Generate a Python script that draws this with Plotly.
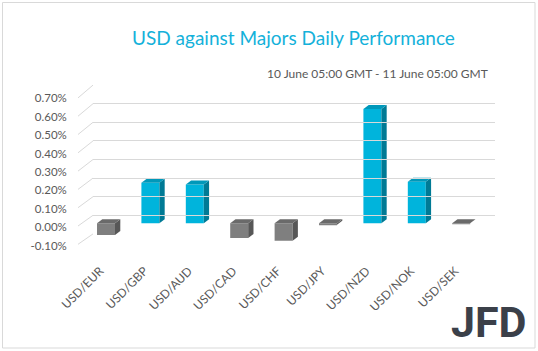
import plotly.graph_objects as go

W, H = 538, 351

categories = ["USD/EUR", "USD/GBP", "USD/AUD", "USD/CAD", "USD/CHF",
              "USD/JPY", "USD/NZD", "USD/NOK", "USD/SEK"]
values = [-0.063, 0.22, 0.21, -0.08, -0.094, -0.008, 0.62, 0.225, -0.004]
tick_vals = [-0.1, 0.0, 0.1, 0.2, 0.3, 0.4, 0.5, 0.6, 0.7]
tick_text = [f"{t:.2f}%" for t in tick_vals]

title_text = "USD against Majors Daily Performance"
subtitle_text = "10 June 05:00 GMT - 11 June 05:00 GMT"

POS_FRONT, POS_SIDE, POS_TOP = "#00B4DC", "#007A95", "#0098BA"
NEG_FRONT, NEG_SIDE, NEG_TOP = "#7F7F7F", "#575757", "#6A6A6A"

def px_x(p):
    return p / W

def px_y(p):
    return 1 - p / H

# bar plane axis (front faces)
x_dom = [px_x(83.8), px_x(483.4)]
y_dom = [px_y(241.75), px_y(94.15)]
# back wall
x2_dom = [px_x(93), px_x(495)]
y2_dom = [px_y(234), px_y(85)]

bar_w = 0.405
dx = 5.3 / 44.4
dy = 4.0 / 184.5

fig = go.Figure()

# invisible trace so the back-wall axes are drawn
fig.add_trace(go.Scatter(x=[0, 1], y=[tick_vals[0], tick_vals[-1]], mode="markers",
                         marker=dict(opacity=0), xaxis="x2", yaxis="y2",
                         showlegend=False, hoverinfo="skip"))

idx = list(range(len(categories)))
fig.add_trace(go.Bar(
    x=idx, y=values, width=bar_w,
    marker=dict(color=[POS_FRONT if v >= 0 else NEG_FRONT for v in values],
                line=dict(width=0)),
    xaxis="x", yaxis="y", showlegend=False, hoverinfo="skip"))

for i, v in enumerate(values):
    lo, hi = min(0, v), max(0, v)
    side_c = POS_SIDE if v >= 0 else NEG_SIDE
    top_c = POS_TOP if v >= 0 else NEG_TOP
    xr = i + bar_w / 2
    xl = i - bar_w / 2
    fig.add_trace(go.Scatter(
        x=[xr, xr + dx, xr + dx, xr, xr],
        y=[lo, lo + dy, hi + dy, hi, lo],
        fill="toself", fillcolor=side_c, mode="lines", line=dict(width=0, color=side_c),
        xaxis="x", yaxis="y", showlegend=False, hoverinfo="skip"))
    fig.add_trace(go.Scatter(
        x=[xl, xr, xr + dx, xl + dx, xl],
        y=[hi, hi, hi + dy, hi + dy, hi],
        fill="toself", fillcolor=top_c, mode="lines", line=dict(width=0, color=top_c),
        xaxis="x", yaxis="y", showlegend=False, hoverinfo="skip"))

# side wall diagonal lines (from label plane to back wall)
shapes = []
for t in tick_vals:
    y_front = 226 - t * 183.0
    y_back = 215.3 - t * 186.0
    shapes.append(dict(type="line", xref="paper", yref="paper",
                       x0=px_x(78), y0=px_y(y_front), x1=px_x(93), y1=px_y(y_back),
                       line=dict(color="#D9D9D9", width=1)))
# chart border
shapes.append(dict(type="rect", xref="paper", yref="paper",
                   x0=px_x(2.5), y0=px_y(348), x1=px_x(535), y1=px_y(2.5),
                   line=dict(color="#D9D9D9", width=1)))

fig.update_layout(
    width=W, height=H,
    margin=dict(l=0, r=0, t=0, b=0, pad=0, autoexpand=False),
    paper_bgcolor="white", plot_bgcolor="rgba(0,0,0,0)",
    font=dict(family="Lato, Open Sans, sans-serif", color="#595959"),
    xaxis=dict(domain=x_dom, range=[-0.5, 8.5], tickvals=idx, ticktext=categories,
               tickangle=-45, showgrid=False, zeroline=False, showline=False,
               ticks="", tickfont=dict(size=12, color="#595959"),
               ticklabelstandoff=19, ticklabelshift=-6, automargin=False,
               anchor="y", fixedrange=True),
    yaxis=dict(domain=y_dom, range=[-0.1, 0.7], tickvals=tick_vals, ticktext=tick_text,
               showgrid=False, zeroline=False,
               showline=False, ticks="", tickfont=dict(size=11.5, color="#595959"),
               ticklabelstandoff=16, ticklabelshift=4, automargin=False,
               anchor="x", fixedrange=True),
    xaxis2=dict(domain=x2_dom, range=[0, 1], showgrid=False,
                zeroline=False, showline=False, showticklabels=False, ticks="",
                automargin=False, anchor="y2", fixedrange=True),
    yaxis2=dict(domain=y2_dom, range=[-0.1, 0.7], tickvals=tick_vals,
                showgrid=True, gridcolor="#D9D9D9", gridwidth=1.3, zeroline=False,
                showline=False, showticklabels=False, ticks="", anchor="x2",
                automargin=False, fixedrange=True),
    shapes=shapes,
    annotations=[
        dict(text=title_text, xref="paper", yref="paper", x=px_x(293), y=px_y(38),
             xanchor="center", yanchor="middle", showarrow=False,
             font=dict(size=19, color="#14B1DA", family="Lato, Open Sans, sans-serif")),
        dict(text=subtitle_text, xref="paper", yref="paper", x=px_x(490), y=px_y(73),
             xanchor="right", yanchor="middle", showarrow=False,
             font=dict(size=12, color="#595959", family="Lato, Open Sans, sans-serif")),
        dict(text="<b>JFD</b>", xref="paper", yref="paper", x=px_x(529), y=px_y(322),
             xanchor="right", yanchor="middle", showarrow=False,
             font=dict(size=43, color="#3B4049", family="Roboto, sans-serif")),
    ],
)

fig.write_html("out.html")
